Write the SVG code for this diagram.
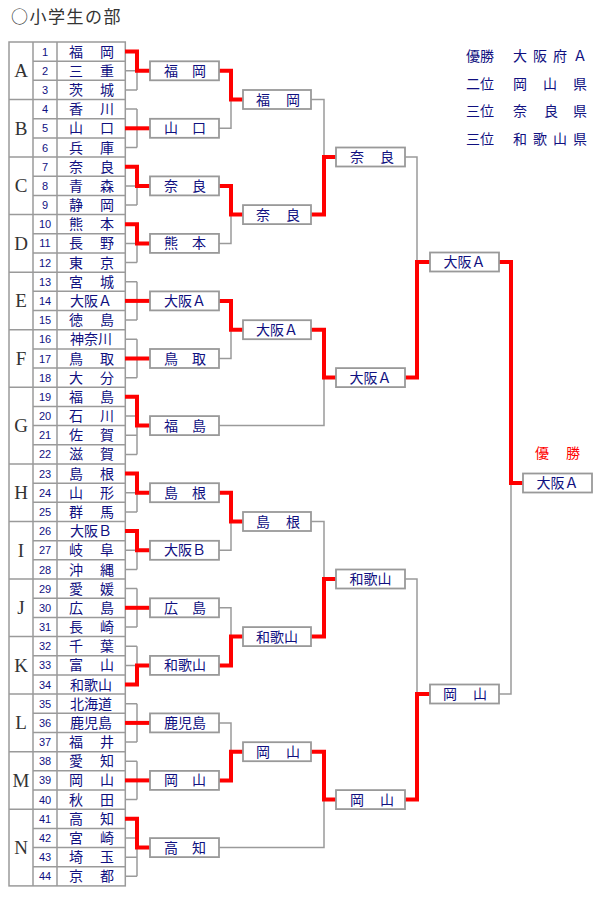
<svg xmlns="http://www.w3.org/2000/svg" width="610" height="900" viewBox="0 0 610 900">
<style>
.g{stroke:#9a9a9a;stroke-width:1.5;fill:none}
.r{stroke:#ff0000;stroke-width:4;fill:none}
.tb{stroke:#9a9a9a;stroke-width:1.5;fill:none}
.box{fill:#fff;stroke:#999;stroke-width:1.8}
.nm{font-family:"Liberation Serif","Noto Sans CJK JP",serif;font-size:14px;fill:#10107f;text-anchor:middle}
.no{font-family:"Liberation Sans",sans-serif;font-size:11px;fill:#10107f;text-anchor:middle}
.gp{font-family:"Liberation Serif",serif;font-size:19px;fill:#333;text-anchor:middle}
.ttl{font-family:"Noto Sans CJK JP",sans-serif;font-size:17px;fill:#333;letter-spacing:1.5px}
.lg{font-family:"Liberation Serif","Noto Sans CJK JP",serif;font-size:14px;fill:#10107f;text-anchor:middle}
.win{font-family:"Liberation Serif","Noto Sans CJK JP",serif;font-size:14px;fill:#ff0000;text-anchor:middle}
</style>
<rect width="610" height="900" fill="#fff"/>
<text class="ttl" x="11" y="23">○小学生の部</text>

<g id="legend">
<text class="lg" x="473 487 520 540 560 580" y="60.5">優勝大阪府Ａ</text>
<text class="lg" x="473 487 520 550 580" y="88.5">二位岡山県</text>
<text class="lg" x="473 487 520 551 580" y="115.5">三位奈良県</text>
<text class="lg" x="473 487 520 540 560 580" y="143.5">三位和歌山県</text>
</g>

<g id="table">
<rect class="tb" x="9" y="42" width="116.3" height="843.9" stroke-width="2"/>
<path class="tb" d="M33 42V885.9M57 42V885.9"/>
<path class="tb" d="M33 61.18H125M33 80.36H125M9 99.54H125M33 118.72H125M33 137.9H125M9 157.08H125M33 176.26H125M33 195.44H125M9 214.62H125M33 233.8H125M33 252.98H125M9 272.16H125M33 291.34H125M33 310.52H125M9 329.7H125M33 348.88H125M33 368.06H125M9 387.24H125M33 406.42H125M33 425.6H125M33 444.78H125M9 463.96H125M33 483.14H125M33 502.32H125M9 521.5H125M33 540.68H125M33 559.86H125M9 579.04H125M33 598.22H125M33 617.4H125M9 636.58H125M33 655.76H125M33 674.94H125M9 694.12H125M33 713.3H125M33 732.48H125M9 751.66H125M33 770.84H125M33 790.02H125M9 809.2H125M33 828.38H125M33 847.56H125M33 866.74H125"/>
<text class="gp" x="21" y="77">A</text>
<text class="gp" x="21" y="134.5">B</text>
<text class="gp" x="21" y="192">C</text>
<text class="gp" x="21" y="249.5">D</text>
<text class="gp" x="21" y="307">E</text>
<text class="gp" x="21" y="364.5">F</text>
<text class="gp" x="21" y="431.8">G</text>
<text class="gp" x="21" y="499">H</text>
<text class="gp" x="21" y="556.5">I</text>
<text class="gp" x="21" y="614">J</text>
<text class="gp" x="21" y="671.5">K</text>
<text class="gp" x="21" y="729">L</text>
<text class="gp" x="21" y="786.5">M</text>
<text class="gp" x="21" y="853.8">N</text>
</g>

<g id="teams">
<g id="t1"><text class="no" x="45" y="55.6">1</text><text class="nm" x="76 107" y="56.6">福岡</text></g>
<g id="t2"><text class="no" x="45" y="74.8">2</text><text class="nm" x="76 107" y="75.8">三重</text></g>
<g id="t3"><text class="no" x="45" y="94">3</text><text class="nm" x="76 107" y="95">茨城</text></g>
<g id="t4"><text class="no" x="45" y="113.1">4</text><text class="nm" x="76 107" y="114.1">香川</text></g>
<g id="t5"><text class="no" x="45" y="132.3">5</text><text class="nm" x="76 107" y="133.3">山口</text></g>
<g id="t6"><text class="no" x="45" y="151.5">6</text><text class="nm" x="76 107" y="152.5">兵庫</text></g>
<g id="t7"><text class="no" x="45" y="170.7">7</text><text class="nm" x="76 107" y="171.7">奈良</text></g>
<g id="t8"><text class="no" x="45" y="189.9">8</text><text class="nm" x="76 107" y="190.9">青森</text></g>
<g id="t9"><text class="no" x="45" y="209">9</text><text class="nm" x="76 107" y="210">静岡</text></g>
<g id="t10"><text class="no" x="45" y="228.2">10</text><text class="nm" x="76 107" y="229.2">熊本</text></g>
<g id="t11"><text class="no" x="45" y="247.4">11</text><text class="nm" x="76 107" y="248.4">長野</text></g>
<g id="t12"><text class="no" x="45" y="266.6">12</text><text class="nm" x="76 107" y="267.6">東京</text></g>
<g id="t13"><text class="no" x="45" y="285.8">13</text><text class="nm" x="76 107" y="286.8">宮城</text></g>
<g id="t14"><text class="no" x="45" y="304.9">14</text><text class="nm" x="91" y="305.9">大阪Ａ</text></g>
<g id="t15"><text class="no" x="45" y="324.1">15</text><text class="nm" x="76 107" y="325.1">徳島</text></g>
<g id="t16"><text class="no" x="45" y="343.3">16</text><text class="nm" x="91" y="344.3">神奈川</text></g>
<g id="t17"><text class="no" x="45" y="362.5">17</text><text class="nm" x="76 107" y="363.5">鳥取</text></g>
<g id="t18"><text class="no" x="45" y="381.7">18</text><text class="nm" x="76 107" y="382.7">大分</text></g>
<g id="t19"><text class="no" x="45" y="400.8">19</text><text class="nm" x="76 107" y="401.8">福島</text></g>
<g id="t20"><text class="no" x="45" y="420">20</text><text class="nm" x="76 107" y="421">石川</text></g>
<g id="t21"><text class="no" x="45" y="439.2">21</text><text class="nm" x="76 107" y="440.2">佐賀</text></g>
<g id="t22"><text class="no" x="45" y="458.4">22</text><text class="nm" x="76 107" y="459.4">滋賀</text></g>
<g id="t23"><text class="no" x="45" y="477.6">23</text><text class="nm" x="76 107" y="478.6">島根</text></g>
<g id="t24"><text class="no" x="45" y="496.7">24</text><text class="nm" x="76 107" y="497.7">山形</text></g>
<g id="t25"><text class="no" x="45" y="515.9">25</text><text class="nm" x="76 107" y="516.9">群馬</text></g>
<g id="t26"><text class="no" x="45" y="535.1">26</text><text class="nm" x="91" y="536.1">大阪Ｂ</text></g>
<g id="t27"><text class="no" x="45" y="554.3">27</text><text class="nm" x="76 107" y="555.3">岐阜</text></g>
<g id="t28"><text class="no" x="45" y="573.5">28</text><text class="nm" x="76 107" y="574.5">沖縄</text></g>
<g id="t29"><text class="no" x="45" y="592.6">29</text><text class="nm" x="76 107" y="593.6">愛媛</text></g>
<g id="t30"><text class="no" x="45" y="611.8">30</text><text class="nm" x="76 107" y="612.8">広島</text></g>
<g id="t31"><text class="no" x="45" y="631">31</text><text class="nm" x="76 107" y="632">長崎</text></g>
<g id="t32"><text class="no" x="45" y="650.2">32</text><text class="nm" x="76 107" y="651.2">千葉</text></g>
<g id="t33"><text class="no" x="45" y="669.4">33</text><text class="nm" x="76 107" y="670.4">富山</text></g>
<g id="t34"><text class="no" x="45" y="688.5">34</text><text class="nm" x="91" y="689.5">和歌山</text></g>
<g id="t35"><text class="no" x="45" y="707.7">35</text><text class="nm" x="91" y="708.7">北海道</text></g>
<g id="t36"><text class="no" x="45" y="726.9">36</text><text class="nm" x="91" y="727.9">鹿児島</text></g>
<g id="t37"><text class="no" x="45" y="746.1">37</text><text class="nm" x="76 107" y="747.1">福井</text></g>
<g id="t38"><text class="no" x="45" y="765.3">38</text><text class="nm" x="76 107" y="766.3">愛知</text></g>
<g id="t39"><text class="no" x="45" y="784.4">39</text><text class="nm" x="76 107" y="785.4">岡山</text></g>
<g id="t40"><text class="no" x="45" y="803.6">40</text><text class="nm" x="76 107" y="804.6">秋田</text></g>
<g id="t41"><text class="no" x="45" y="822.8">41</text><text class="nm" x="76 107" y="823.8">高知</text></g>
<g id="t42"><text class="no" x="45" y="842">42</text><text class="nm" x="76 107" y="843">宮崎</text></g>
<g id="t43"><text class="no" x="45" y="861.2">43</text><text class="nm" x="76 107" y="862.2">埼玉</text></g>
<g id="t44"><text class="no" x="45" y="880.3">44</text><text class="nm" x="76 107" y="881.3">京都</text></g>
</g>

<g id="connectors">
<path class="g" d="M125 51.6H137M125 70.8H137M125 90H137M137 51.6V90"/>
<path class="g" d="M125 109.1H137M125 128.3H137M125 147.5H137M137 109.1V147.5"/>
<path class="g" d="M125 166.7H137M125 185.9H137M125 205H137M137 166.7V205"/>
<path class="g" d="M125 224.2H137M125 243.4H137M125 262.6H137M137 224.2V262.6"/>
<path class="g" d="M125 281.8H137M125 300.9H137M125 320.1H137M137 281.8V320.1"/>
<path class="g" d="M125 339.3H137M125 358.5H137M125 377.7H137M137 339.3V377.7"/>
<path class="g" d="M125 396.8H137M125 416H137M125 435.2H137M125 454.4H137M137 396.8V454.4"/>
<path class="g" d="M125 473.6H137M125 492.7H137M125 511.9H137M137 473.6V511.9"/>
<path class="g" d="M125 531.1H137M125 550.3H137M125 569.5H137M137 531.1V569.5"/>
<path class="g" d="M125 588.6H137M125 607.8H137M125 627H137M137 588.6V627"/>
<path class="g" d="M125 646.2H137M125 665.4H137M125 684.5H137M137 646.2V684.5"/>
<path class="g" d="M125 703.7H137M125 722.9H137M125 742.1H137M137 703.7V742.1"/>
<path class="g" d="M125 761.3H137M125 780.4H137M125 799.6H137M137 761.3V799.6"/>
<path class="g" d="M125 818.8H137M125 838H137M125 857.2H137M125 876.3H137M137 818.8V876.3"/>

<path class="g" d="M219 128.3H231V99.5"/>
<path class="g" d="M219 243.4H231V214.6"/>
<path class="g" d="M219 358.5H231V329.7"/>
<path class="g" d="M219 550.3H231V521.5"/>
<path class="g" d="M219 607.8H231V636.6"/>
<path class="g" d="M219 722.9H231V751.7"/>
<path class="g" d="M219 425.6H324V377.6"/>
<path class="g" d="M219 847.6H324V799.6"/>
<path class="g" d="M311 99.5H324V157"/>
<path class="g" d="M311 521.5H324V579"/>
<path class="g" d="M405 157H417V262"/>
<path class="g" d="M405 579H417V694"/>
<path class="g" d="M499 694H511V483"/>

<path class="r" d="M125 51.6H137V70.8H150"/>
<path class="r" d="M125 128.3H150"/>
<path class="r" d="M125 166.7H137V185.9H150"/>
<path class="r" d="M125 224.2H137V243.4H150"/>
<path class="r" d="M125 300.9H150"/>
<path class="r" d="M125 358.5H150"/>
<path class="r" d="M125 396.8H137V425.6H150"/>
<path class="r" d="M125 473.6H137V492.7H150"/>
<path class="r" d="M125 531.1H137V550.3H150"/>
<path class="r" d="M125 607.8H150"/>
<path class="r" d="M125 684.5H137V665.4H150"/>
<path class="r" d="M125 722.9H150"/>
<path class="r" d="M125 780.4H150"/>
<path class="r" d="M125 818.8H137V847.6H150"/>

<path class="r" d="M219 70.8H231V99.5H243"/>
<path class="r" d="M219 185.9H231V214.6H243"/>
<path class="r" d="M219 300.9H231V329.7H243"/>
<path class="r" d="M219 492.7H231V521.5H243"/>
<path class="r" d="M219 665.4H231V636.6H243"/>
<path class="r" d="M219 780.4H231V751.7H243"/>

<path class="r" d="M311 214.6H324V157H336"/>
<path class="r" d="M311 329.7H324V377.6H336"/>
<path class="r" d="M311 636.6H324V579H336"/>
<path class="r" d="M311 751.7H324V799.6H336"/>

<path class="r" d="M405 377.6H417V262H430"/>
<path class="r" d="M405 799.6H417V694H430"/>

<path class="r" d="M499 262H511V483H523"/>
</g>

<g id="r1">
<g id="r1-A"><rect class="box" x="150" y="61.3" width="69" height="19"/><text class="nm" x="171 199" y="75.8">福岡</text></g>
<g id="r1-B"><rect class="box" x="150" y="118.8" width="69" height="19"/><text class="nm" x="171 199" y="133.3">山口</text></g>
<g id="r1-C"><rect class="box" x="150" y="176.4" width="69" height="19"/><text class="nm" x="171 199" y="190.9">奈良</text></g>
<g id="r1-D"><rect class="box" x="150" y="233.9" width="69" height="19"/><text class="nm" x="171 199" y="248.4">熊本</text></g>
<g id="r1-E"><rect class="box" x="150" y="291.4" width="69" height="19"/><text class="nm" x="185" y="305.9">大阪Ａ</text></g>
<g id="r1-F"><rect class="box" x="150" y="349" width="69" height="19"/><text class="nm" x="171 199" y="363.5">鳥取</text></g>
<g id="r1-G"><rect class="box" x="150" y="416.1" width="69" height="19"/><text class="nm" x="171 199" y="430.6">福島</text></g>
<g id="r1-H"><rect class="box" x="150" y="483.2" width="69" height="19"/><text class="nm" x="171 199" y="497.7">島根</text></g>
<g id="r1-I"><rect class="box" x="150" y="540.8" width="69" height="19"/><text class="nm" x="185" y="555.3">大阪Ｂ</text></g>
<g id="r1-J"><rect class="box" x="150" y="598.3" width="69" height="19"/><text class="nm" x="171 199" y="612.8">広島</text></g>
<g id="r1-K"><rect class="box" x="150" y="655.9" width="69" height="19"/><text class="nm" x="185" y="670.4">和歌山</text></g>
<g id="r1-L"><rect class="box" x="150" y="713.4" width="69" height="19"/><text class="nm" x="185" y="727.9">鹿児島</text></g>
<g id="r1-M"><rect class="box" x="150" y="770.9" width="69" height="19"/><text class="nm" x="171 199" y="785.4">岡山</text></g>
<g id="r1-N"><rect class="box" x="150" y="838.1" width="69" height="19"/><text class="nm" x="171 199" y="852.6">高知</text></g>
</g>

<g id="r2">
<g id="r2-AB"><rect class="box" x="243" y="90" width="68" height="19"/><text class="nm" x="263 293" y="104.5">福岡</text></g>
<g id="r2-CD"><rect class="box" x="243" y="205.1" width="68" height="19"/><text class="nm" x="263 293" y="219.6">奈良</text></g>
<g id="r2-EF"><rect class="box" x="243" y="320.2" width="68" height="19"/><text class="nm" x="277" y="334.7">大阪Ａ</text></g>
<g id="r2-HI"><rect class="box" x="243" y="512" width="68" height="19"/><text class="nm" x="263 293" y="526.5">島根</text></g>
<g id="r2-JK"><rect class="box" x="243" y="627.1" width="68" height="19"/><text class="nm" x="277" y="641.6">和歌山</text></g>
<g id="r2-LM"><rect class="box" x="243" y="742.2" width="68" height="19"/><text class="nm" x="263 293" y="756.7">岡山</text></g>
</g>

<g id="r3">
<g id="r3-1"><rect class="box" x="336" y="147.5" width="69" height="19"/><text class="nm" x="357 387" y="162">奈良</text></g>
<g id="r3-2"><rect class="box" x="336" y="368.1" width="69" height="19"/><text class="nm" x="370.5" y="382.6">大阪Ａ</text></g>
<g id="r3-3"><rect class="box" x="336" y="569.5" width="69" height="19"/><text class="nm" x="370.5" y="584">和歌山</text></g>
<g id="r3-4"><rect class="box" x="336" y="790.1" width="69" height="19"/><text class="nm" x="357 387" y="804.6">岡山</text></g>
</g>

<g id="r4">
<g id="r4-1"><rect class="box" x="430" y="252.5" width="69" height="19"/><text class="nm" x="464.5" y="267">大阪Ａ</text></g>
<g id="r4-2"><rect class="box" x="430" y="684.5" width="69" height="19"/><text class="nm" x="450 480" y="699">岡山</text></g>
</g>

<g id="final">
<text class="win" x="542 573" y="458">優勝</text>
<rect class="box" x="523" y="473.5" width="69" height="19"/><text class="nm" x="557.5" y="488">大阪Ａ</text>
</g>
</svg>
